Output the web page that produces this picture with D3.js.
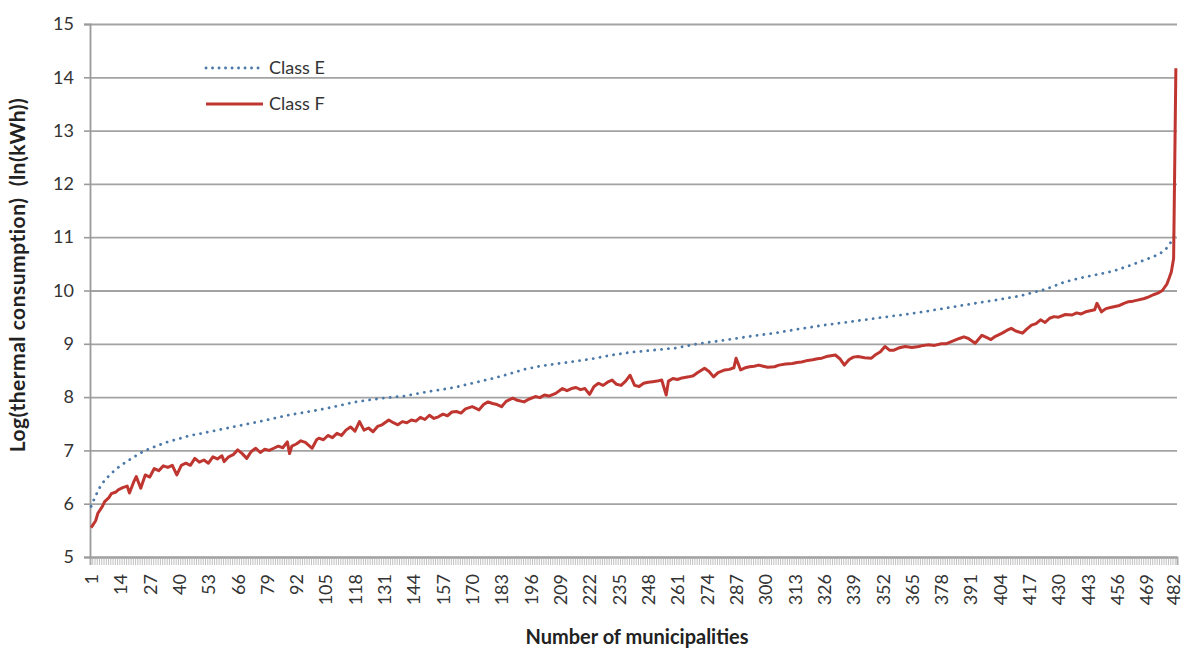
<!DOCTYPE html>
<html>
<head>
<meta charset="utf-8">
<script src="https://cdn.jsdelivr.net/npm/d3@7"></script>
<style>
  html, body { margin: 0; padding: 0; background: #ffffff; }
  svg { display: block; }
  text { font-family: Lato, "Open Sans", "Liberation Sans", sans-serif; }
</style>
</head>
<body>
<svg id="chart" width="1182" height="648"></svg>
<script>
// ---------- data ----------
const municipalityCount = 482;
const yTicks = [5, 6, 7, 8, 9, 10, 11, 12, 13, 14, 15];
const xTickLabels = [1, 14, 27, 40, 53, 66, 79, 92, 105, 118, 131, 144, 157, 170, 183, 196, 209, 222, 235, 248, 261, 274, 287, 300, 313, 326, 339, 352, 365, 378, 391, 404, 417, 430, 443, 456, 469, 482];

const seriesNames = ["Class E", "Class F"];

// Class E: municipality index and ln(kWh)
const classEMunicipality = [1, 3, 5, 7, 10, 13, 16, 19, 22, 25, 28, 31, 35, 40, 45, 50, 57, 65, 72, 80, 87, 95, 102, 110, 117, 125, 132, 140, 150, 162, 172, 180, 186, 193, 200, 210, 222, 232, 240, 250, 260, 270, 282, 293, 304, 315, 326, 337, 349, 360, 370, 380, 390, 402, 413, 424, 432, 439, 446, 454, 461, 468, 474, 477, 479, 481, 482];
const classEValues = [5.95, 6.15, 6.32, 6.44, 6.57, 6.68, 6.77, 6.85, 6.93, 7.00, 7.05, 7.10, 7.16, 7.22, 7.28, 7.32, 7.38, 7.45, 7.51, 7.58, 7.65, 7.71, 7.76, 7.83, 7.90, 7.95, 7.99, 8.02, 8.10, 8.18, 8.28, 8.36, 8.43, 8.52, 8.58, 8.64, 8.71, 8.79, 8.84, 8.88, 8.92, 9.00, 9.07, 9.14, 9.20, 9.28, 9.35, 9.41, 9.48, 9.54, 9.60, 9.67, 9.74, 9.82, 9.90, 10.02, 10.15, 10.23, 10.29, 10.36, 10.46, 10.57, 10.67, 10.75, 10.85, 11.00, 11.08];

// Class F: municipality index and ln(kWh)
const classFMunicipality = [1, 3, 4, 6, 7, 9, 10, 12, 13, 15, 17, 18, 20, 21, 23, 25, 27, 29, 31, 33, 35, 37, 39, 41, 43, 45, 47, 49, 51, 53, 55, 57, 59, 60, 62, 64, 66, 68, 70, 72, 74, 76, 78, 80, 82, 84, 86, 88, 89, 90, 92, 94, 96, 99, 101, 102, 104, 106, 108, 110, 112, 114, 116, 118, 120, 122, 124, 126, 128, 130, 133, 135, 137, 139, 141, 143, 145, 147, 149, 151, 153, 155, 157, 159, 161, 163, 165, 167, 170, 173, 175, 177, 179, 181, 183, 185, 188, 190, 193, 195, 198, 200, 202, 204, 207, 210, 212, 214, 216, 218, 220, 222, 224, 226, 228, 230, 232, 234, 236, 238, 240, 242, 244, 246, 248, 250, 252, 254, 256, 257, 259, 261, 263, 266, 268, 270, 273, 275, 277, 279, 282, 284, 286, 287, 289, 291, 293, 295, 297, 299, 301, 304, 306, 309, 312, 314, 316, 318, 321, 323, 325, 327, 331, 333, 335, 337, 339, 341, 344, 347, 349, 351, 353, 355, 357, 359, 362, 365, 368, 370, 372, 375, 378, 380, 383, 386, 388, 390, 393, 396, 398, 400, 402, 405, 407, 409, 411, 414, 416, 418, 420, 422, 424, 426, 428, 430, 433, 436, 438, 440, 442, 444, 446, 447, 449, 451, 453, 455, 457, 459, 461, 463, 465, 468, 470, 472, 474, 476, 478, 479, 480, 481, 482];
const classFValues = [5.55, 5.68, 5.82, 5.95, 6.04, 6.12, 6.19, 6.22, 6.26, 6.30, 6.33, 6.20, 6.42, 6.51, 6.29, 6.54, 6.50, 6.66, 6.62, 6.71, 6.68, 6.72, 6.54, 6.72, 6.76, 6.72, 6.85, 6.78, 6.82, 6.76, 6.88, 6.84, 6.90, 6.79, 6.88, 6.92, 7.01, 6.94, 6.85, 6.98, 7.04, 6.96, 7.02, 7.00, 7.04, 7.08, 7.05, 7.16, 6.94, 7.08, 7.12, 7.18, 7.15, 7.04, 7.20, 7.23, 7.20, 7.28, 7.24, 7.32, 7.28, 7.38, 7.44, 7.36, 7.54, 7.38, 7.42, 7.35, 7.45, 7.48, 7.57, 7.52, 7.48, 7.54, 7.52, 7.57, 7.55, 7.62, 7.58, 7.66, 7.60, 7.63, 7.68, 7.65, 7.72, 7.73, 7.70, 7.78, 7.82, 7.76, 7.86, 7.91, 7.88, 7.86, 7.82, 7.92, 7.98, 7.94, 7.91, 7.96, 8.01, 7.99, 8.04, 8.02, 8.07, 8.16, 8.12, 8.16, 8.18, 8.14, 8.16, 8.05, 8.20, 8.26, 8.22, 8.28, 8.32, 8.24, 8.22, 8.30, 8.41, 8.22, 8.20, 8.26, 8.28, 8.29, 8.30, 8.32, 8.04, 8.30, 8.35, 8.33, 8.36, 8.38, 8.40, 8.46, 8.54, 8.48, 8.38, 8.46, 8.51, 8.52, 8.55, 8.73, 8.51, 8.55, 8.57, 8.58, 8.60, 8.58, 8.56, 8.57, 8.60, 8.62, 8.63, 8.65, 8.66, 8.68, 8.70, 8.72, 8.73, 8.76, 8.79, 8.72, 8.60, 8.70, 8.75, 8.76, 8.74, 8.73, 8.80, 8.85, 8.95, 8.88, 8.88, 8.92, 8.95, 8.93, 8.95, 8.97, 8.98, 8.97, 9.00, 9.00, 9.05, 9.10, 9.13, 9.10, 9.01, 9.16, 9.12, 9.08, 9.14, 9.20, 9.25, 9.29, 9.24, 9.20, 9.28, 9.35, 9.38, 9.45, 9.40, 9.48, 9.51, 9.50, 9.55, 9.54, 9.58, 9.56, 9.60, 9.62, 9.64, 9.76, 9.60, 9.66, 9.68, 9.70, 9.72, 9.76, 9.79, 9.80, 9.82, 9.85, 9.88, 9.92, 9.95, 10.00, 10.12, 10.23, 10.35, 10.60, 14.17];

const yTitle = "Log(thermal consumption)  (ln(kWh))";
const xTitle = "Number of municipalities";

// ---------- layout ----------
const svg = d3.select("#chart");
const plotLeft = 90, plotRight = 1177, plotTop = 24, plotBottom = 557;

const x = d3.scaleLinear().domain([0.5, municipalityCount + 0.5]).range([plotLeft, plotRight]);
const y = d3.scaleLinear().domain([5, 15]).range([plotBottom, plotTop]);

// gridlines
svg.append("g")
  .attr("transform", `translate(${plotLeft},0)`)
  .call(d3.axisLeft(y).tickValues(yTicks).tickSize(-(plotRight - plotLeft)).tickFormat(""))
  .call(g => g.select(".domain").remove())
  .call(g => g.selectAll(".tick line").attr("stroke", "#a3a3a3").attr("stroke-width", 1.8));

// small left ticks + labels
svg.append("g")
  .attr("transform", `translate(${plotLeft},0)`)
  .call(d3.axisLeft(y).tickValues(yTicks).tickSize(6).tickPadding(10).tickFormat(d3.format("d")))
  .call(g => g.select(".domain").attr("stroke", "#9a9a9a").attr("stroke-width", 1.8))
  .call(g => g.selectAll(".tick line").attr("stroke", "#9a9a9a").attr("stroke-width", 1.6))
  .call(g => g.selectAll(".tick text").attr("fill", "#333").style("font-size", "18px"));

// category tick marks along bottom
const boundaries = d3.range(0, municipalityCount + 1).map(i => i + 0.5);
svg.append("g")
  .attr("transform", `translate(0,${plotBottom})`)
  .call(d3.axisBottom(x).tickValues(boundaries).tickSize(8).tickFormat(""))
  .call(g => g.select(".domain").attr("stroke", "#9a9a9a").attr("stroke-width", 1.8))
  .call(g => g.selectAll(".tick line").attr("stroke", "#b0b0b0").attr("stroke-width", 0.8));

// rotated category labels
svg.append("g")
  .attr("transform", `translate(0,${plotBottom})`)
  .call(d3.axisBottom(x).tickValues(xTickLabels).tickSize(0).tickFormat(d3.format("d")))
  .call(g => g.select(".domain").remove())
  .call(g => g.selectAll(".tick text")
    .attr("fill", "#333")
    .style("font-size", "18px")
    .attr("transform", "rotate(-90)")
    .attr("text-anchor", "end")
    .attr("x", -17)
    .attr("y", d => d === municipalityCount ? -3 : 0)
    .attr("dy", "0.35em"));

// series
const eData = classEMunicipality.map((m, i) => ({ m, v: classEValues[i] }));
const fData = classFMunicipality.map((m, i) => ({ m, v: classFValues[i] }));
const line = d3.line().x(d => x(d.m)).y(d => y(d.v));

svg.append("path")
  .datum(eData)
  .attr("fill", "none")
  .attr("stroke", "#4a78a8")
  .attr("stroke-width", 2.8)
  .attr("stroke-linecap", "round")
  .attr("stroke-dasharray", "0.1,6.8")
  .attr("d", line);

svg.append("path")
  .datum(fData)
  .attr("fill", "none")
  .attr("stroke", "#bf3630")
  .attr("stroke-width", 3)
  .attr("stroke-linejoin", "round")
  .attr("d", line);

// legend
const legend = svg.append("g");
const legendItems = [
  { name: seriesNames[0], y: 68, stroke: "#4a78a8", dash: "0.1,6.4", cap: "round" },
  { name: seriesNames[1], y: 104, stroke: "#bf3630", dash: null, cap: "butt" }
];
legendItems.forEach(it => {
  legend.append("line")
    .attr("x1", 206).attr("x2", 263).attr("y1", it.y).attr("y2", it.y)
    .attr("stroke", it.stroke).attr("stroke-width", 2.8)
    .attr("stroke-linecap", it.cap)
    .attr("stroke-dasharray", it.dash);
  legend.append("text")
    .attr("x", 269).attr("y", it.y).attr("dy", "0.35em")
    .attr("fill", "#333").style("font-size", "18px")
    .text(it.name);
});

// axis titles
svg.append("text")
  .attr("transform", `translate(18,275) rotate(-90)`)
  .attr("text-anchor", "middle")
  .attr("dy", "0.35em")
  .attr("fill", "#222")
  .style("font-size", "21px")
  .style("font-weight", "bold")
  .style("letter-spacing", "0.5px")
  .style("white-space", "pre")
  .text(yTitle);

svg.append("text")
  .attr("x", 637).attr("y", 644)
  .attr("text-anchor", "middle")
  .attr("fill", "#222")
  .style("font-size", "20px")
  .style("font-weight", "bold")
  .text(xTitle);
</script>
</body>
</html>
